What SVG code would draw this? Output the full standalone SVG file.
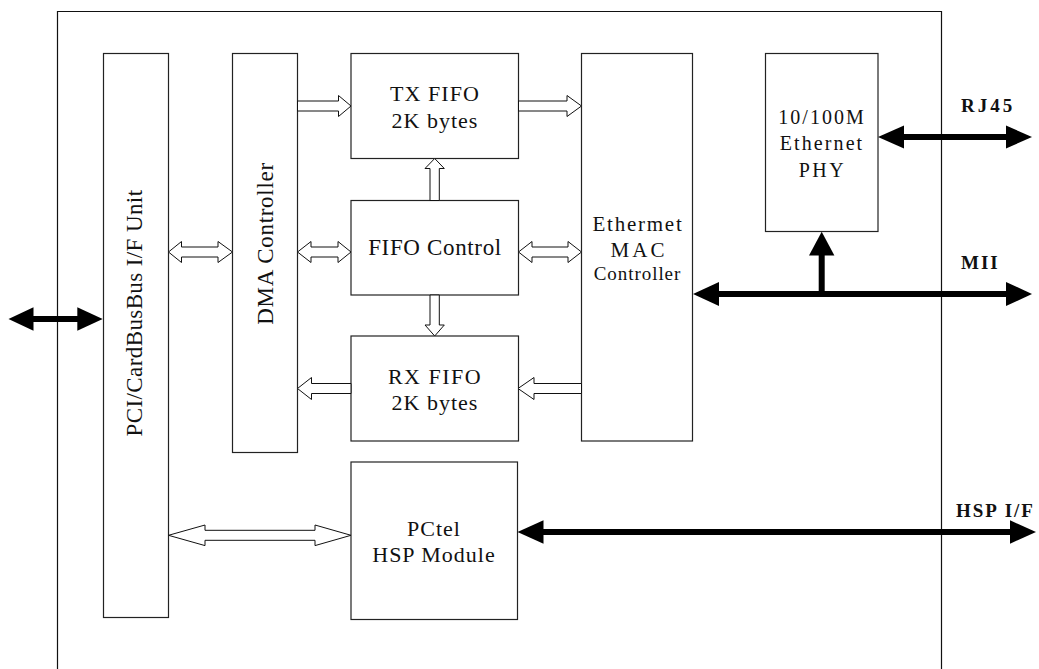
<svg xmlns="http://www.w3.org/2000/svg" width="1039" height="669" viewBox="0 0 1039 669">
<style>
.box{fill:#fff;stroke:#222;stroke-width:1.2}
.frame{fill:none;stroke:#111;stroke-width:1.2}
text{font-family:'Liberation Serif','Times New Roman','DejaVu Serif',serif}
.t{fill:#111;text-anchor:middle}
.lb{font-weight:bold;fill:#111;font-size:19px}
.hol{fill:#fff;stroke:#111;stroke-width:1;stroke-linejoin:miter}
.bl{stroke:#000;stroke-width:6;fill:none}
.bh{fill:#000;stroke:none}
</style>
<rect width="1039" height="669" fill="#fff"/>
<path class="frame" d="M57.5,669 V11.5 H941.5 V669"/>

<g id="pci">
<rect class="box" x="103.5" y="53.5" width="65" height="564"/>
<text class="t" font-size="23" letter-spacing="0.4" transform="translate(142,313) rotate(-90)">PCI/CardBusBus I/F Unit</text>
</g>
<g id="dma">
<rect class="box" x="232.5" y="53.5" width="65" height="399"/>
<text class="t" font-size="23" letter-spacing="0.7" transform="translate(273,243.5) rotate(-90)">DMA Controller</text>
</g>
<g id="txfifo">
<rect class="box" x="351" y="53.5" width="167.5" height="105"/>
<text class="t" font-size="22" letter-spacing="1.1" x="435" y="101">TX FIFO</text>
<text class="t" font-size="22" letter-spacing="1" x="435" y="127.5">2K bytes</text>
</g>
<g id="fifoctrl">
<rect class="box" x="351" y="200.5" width="167.5" height="94.5"/>
<text class="t" font-size="23" letter-spacing="0.65" x="435" y="255">FIFO Control</text>
</g>
<g id="rxfifo">
<rect class="box" x="351" y="336" width="167.5" height="105"/>
<text class="t" font-size="22" letter-spacing="1.5" x="435" y="383.5">RX FIFO</text>
<text class="t" font-size="22" letter-spacing="1" x="435" y="410">2K bytes</text>
</g>
<g id="pctel">
<rect class="box" x="351" y="462" width="166.5" height="157.5"/>
<text class="t" font-size="22" letter-spacing="1" x="434" y="536">PCtel</text>
<text class="t" font-size="22" letter-spacing="1" x="434" y="562">HSP Module</text>
</g>
<g id="mac">
<rect class="box" x="581.5" y="53.5" width="111" height="387.5"/>
<text class="t" font-size="21" letter-spacing="1.75" x="638" y="231">Ethermet</text>
<text class="t" font-size="21" letter-spacing="3.1" x="639" y="256.7">MAC</text>
<text class="t" font-size="19" letter-spacing="0.95" x="637.5" y="280">Controller</text>
</g>
<g id="phy">
<rect class="box" x="765.5" y="53.5" width="112.5" height="178"/>
<text class="t" font-size="20" letter-spacing="2" x="822" y="124">10/100M</text>
<text class="t" font-size="20" letter-spacing="2.1" x="822" y="150">Ethernet</text>
<text class="t" font-size="20" letter-spacing="2.5" x="822.5" y="176.7">PHY</text>
</g>

<g id="connectors">
<polygon class="hol" points="297.5,101 338.5,101 338.5,95.5 351,106 338.5,116.5 338.5,111 297.5,111"/>
<polygon class="hol" points="518.5,101 567,101 567,95.5 581.5,106 567,116.5 567,111 518.5,111"/>
<polygon class="hol" points="168.5,252 181.5,241.5 181.5,247 218,247 218,241.5 232.5,252 218,262.5 218,257 181.5,257 181.5,262.5"/>
<polygon class="hol" points="297.5,252 311,241.5 311,247 338,247 338,241.5 351,252 338,262.5 338,257 311,257 311,262.5"/>
<polygon class="hol" points="518.5,252 532,241.5 532,247 568,247 568,241.5 581.5,252 568,262.5 568,257 532,257 532,262.5"/>
<polygon class="hol" points="430,200.5 430,168.5 425,168.5 434.7,158.5 444.3,168.5 439.3,168.5 439.3,200.5"/>
<polygon class="hol" points="430,295 430,325 425,325 434.7,336 444.3,325 439.3,325 439.3,295"/>
<polygon class="hol" points="581.5,383.5 534,383.5 534,377.5 518,388.5 534,399.5 534,393.5 581.5,393.5"/>
<polygon class="hol" points="351,383.5 311.5,383.5 311.5,377.5 297.5,388.5 311.5,399.5 311.5,393.5 351,393.5"/>
<polygon class="hol" points="168.5,535.3 205,525 205,530.3 315,530.3 315,525 351,535.3 315,545.6 315,540.3 205,540.3 205,545.6"/>

<line class="bl" x1="30" y1="319" x2="80" y2="319" stroke-width="5"/>
<polygon class="bh" points="8.5,319 33.5,307.3 33.5,330.7"/>
<polygon class="bh" points="102.7,319 77.3,307.3 77.3,330.7"/>

<line class="bl" x1="900" y1="137" x2="1010" y2="137"/>
<polygon class="bh" points="878,137 904,125.5 904,148.5"/>
<polygon class="bh" points="1032,137 1006,125.5 1006,148.5"/>

<line class="bl" x1="715" y1="294" x2="1010" y2="294"/>
<polygon class="bh" points="693,294 719,282 719,306"/>
<polygon class="bh" points="1032,294 1006,282 1006,306"/>
<line class="bl" x1="821.7" y1="297" x2="821.7" y2="252"/>
<polygon class="bh" points="821.7,231.7 809,255.5 834.4,255.5"/>

<line class="bl" x1="540" y1="532" x2="1012" y2="532"/>
<polygon class="bh" points="517.5,532 543.5,520.3 543.5,543.7"/>
<polygon class="bh" points="1036,532 1010,520.3 1010,543.7"/>
</g>

<text class="lb" x="961" y="111.7" letter-spacing="3">RJ45</text>
<text class="lb" x="961" y="268.5" letter-spacing="2">MII</text>
<text class="lb" x="956" y="517" letter-spacing="2">HSP I/F</text>
</svg>
